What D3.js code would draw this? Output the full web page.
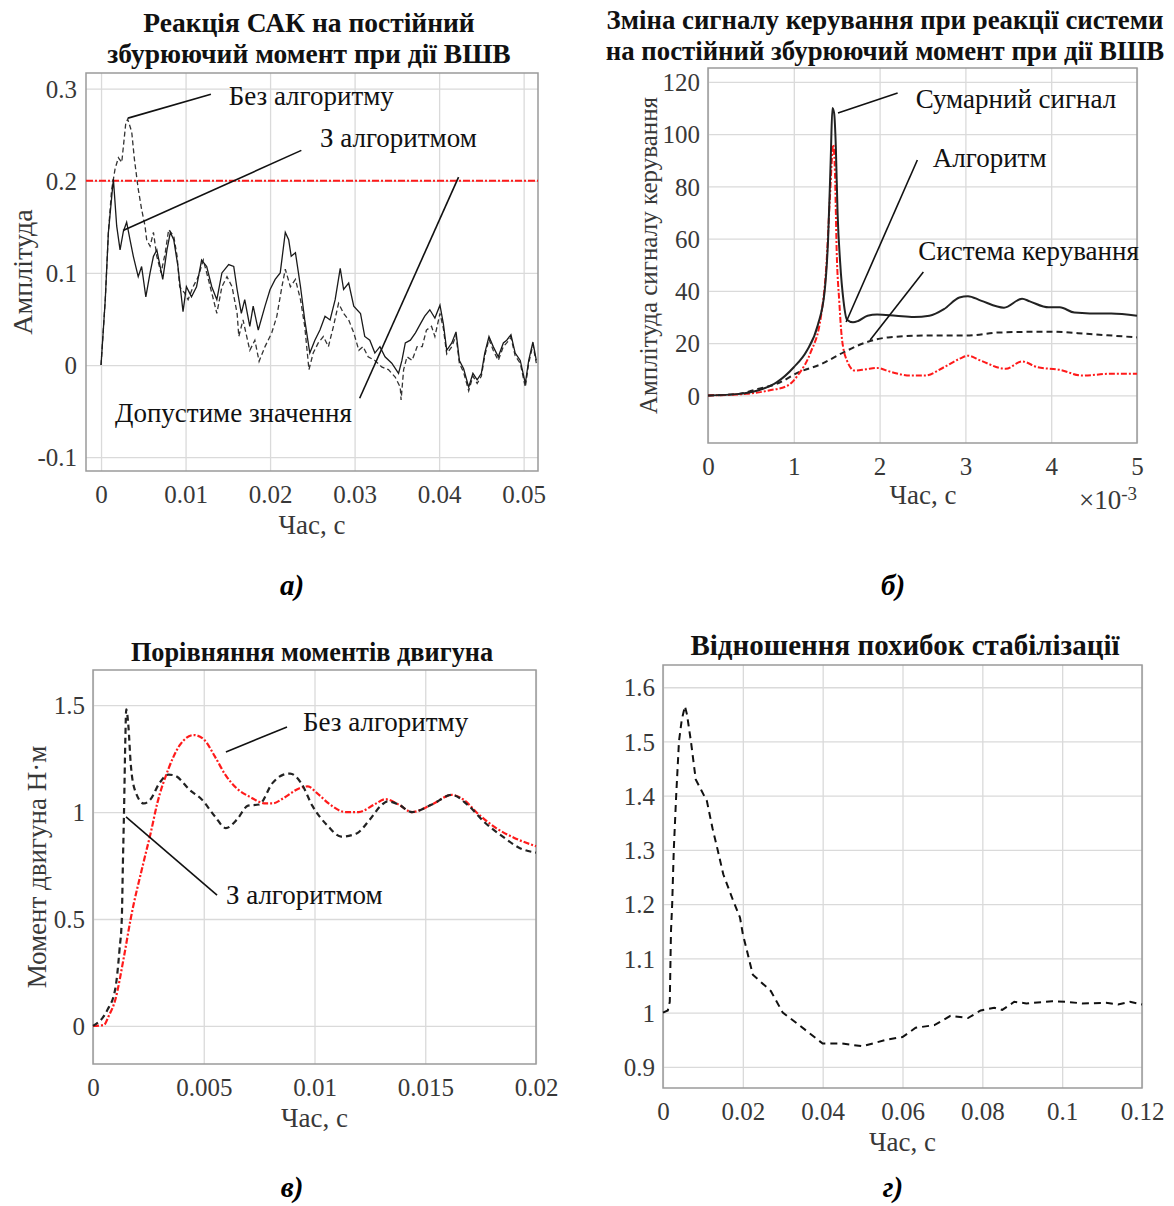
<!DOCTYPE html>
<html>
<head>
<meta charset="utf-8">
<script src="https://cdn.jsdelivr.net/npm/d3@7"></script>
<style>
  body { margin: 0; background: #fff; }
  svg text { font-family: "Liberation Serif", "Times New Roman", serif; }
  .grid line { stroke: #dadada; stroke-width: 1.3; }
  .grid .domain { display: none; }
  .frame { fill: none; stroke: #9a9a9a; stroke-width: 1.5; }
  .axis .domain { display: none; }
  .axis text { fill: #383838; font-size: 25px; }
  .title { font-weight: bold; fill: #111; text-anchor: middle; }
  .axis-label { font-size: 27px; fill: #383838; text-anchor: middle; }
  .note { font-size: 27px; fill: #111; }
  .leader { stroke: #111; stroke-width: 1.6; }
  .sub { font-size: 29px; font-weight: bold; font-style: italic; text-anchor: middle; }
</style>
</head>
<body>
<svg width="1174" height="1206"></svg>
<script>
// ---- panel a: response to constant disturbance (time in s)
const aWithAlg = [[0,0],[0.0005,0.071],[0.00087,0.144],[0.00146,0.202],[0.00185,0.151],[0.00225,0.125],[0.00264,0.145],[0.00303,0.155],[0.00343,0.136],[0.00382,0.118],[0.0044,0.096],[0.0048,0.107],[0.0053,0.074],[0.0058,0.100],[0.0062,0.118],[0.0066,0.125],[0.0073,0.093],[0.0078,0.125],[0.0082,0.144],[0.0086,0.136],[0.0091,0.107],[0.0097,0.058],[0.0101,0.085],[0.0107,0.074],[0.0113,0.085],[0.0119,0.114],[0.0125,0.107],[0.0131,0.085],[0.0137,0.071],[0.0143,0.100],[0.0151,0.109],[0.0157,0.107],[0.0161,0.082],[0.0166,0.056],[0.0170,0.071],[0.0176,0.042],[0.0180,0.064],[0.0186,0.038],[0.0194,0.064],[0.0200,0.082],[0.0206,0.093],[0.0212,0.100],[0.0218,0.144],[0.0222,0.136],[0.0225,0.118],[0.0230,0.122],[0.0236,0.085],[0.0241,0.049],[0.0247,0.013],[0.0253,0.027],[0.0259,0.038],[0.0265,0.053],[0.0271,0.049],[0.0277,0.071],[0.0283,0.105],[0.0287,0.082],[0.0293,0.089],[0.0299,0.064],[0.0307,0.056],[0.0312,0.031],[0.0318,0.027],[0.0324,0.013],[0.0330,0.020],[0.0336,0.009],[0.0344,0.002],[0.0352,-0.009],[0.0356,0.005],[0.0360,0.024],[0.0366,0.027],[0.0372,0.035],[0.0378,0.045],[0.0383,0.053],[0.0389,0.060],[0.0395,0.051],[0.0401,0.065],[0.0405,0.045],[0.0409,0.016],[0.0415,0.024],[0.0420,0.036],[0.0424,0.005],[0.0429,-0.004],[0.0435,-0.024],[0.0440,-0.009],[0.0445,-0.016],[0.0450,-0.009],[0.0454,0.013],[0.0459,0.031],[0.0464,0.020],[0.0470,0.009],[0.0476,0.024],[0.0480,0.027],[0.0485,0.033],[0.0490,0.013],[0.0496,0.005],[0.0502,-0.020],[0.0506,0.005],[0.0511,0.025],[0.0515,0.005]];
const aWithoutAlg = [[0,0],[0.0005,0.071],[0.00087,0.144],[0.00125,0.190],[0.00166,0.213],[0.00205,0.225],[0.00245,0.220],[0.00292,0.262],[0.00315,0.267],[0.00363,0.253],[0.00394,0.224],[0.0044,0.191],[0.0048,0.169],[0.0052,0.151],[0.0054,0.136],[0.0058,0.129],[0.0062,0.144],[0.0066,0.118],[0.0071,0.100],[0.0076,0.122],[0.0080,0.147],[0.0086,0.140],[0.0090,0.118],[0.0093,0.085],[0.0099,0.078],[0.0103,0.071],[0.0109,0.085],[0.0115,0.096],[0.0121,0.114],[0.0127,0.093],[0.0133,0.071],[0.0137,0.056],[0.0143,0.085],[0.0149,0.096],[0.0155,0.085],[0.0161,0.056],[0.0163,0.031],[0.0168,0.049],[0.0176,0.016],[0.0182,0.027],[0.0187,0.004],[0.0194,0.020],[0.0202,0.035],[0.0208,0.053],[0.0214,0.085],[0.0218,0.104],[0.0224,0.085],[0.0230,0.093],[0.0236,0.071],[0.0241,0.042],[0.0246,-0.005],[0.0251,0.013],[0.0257,0.024],[0.0263,0.031],[0.0269,0.020],[0.0275,0.042],[0.0281,0.067],[0.0287,0.056],[0.0293,0.049],[0.0299,0.035],[0.0305,0.016],[0.0310,0.020],[0.0316,0.009],[0.0324,0.005],[0.0332,-0.002],[0.0340,-0.005],[0.0348,-0.013],[0.0354,-0.024],[0.0355,-0.038],[0.0358,-0.005],[0.0362,0.009],[0.0368,0.005],[0.0374,0.020],[0.0380,0.020],[0.0385,0.038],[0.0391,0.042],[0.0395,0.031],[0.0401,0.056],[0.0405,0.040],[0.0409,0.012],[0.0415,0.020],[0.0420,0.032],[0.0424,0.002],[0.0429,-0.008],[0.0435,-0.028],[0.0440,-0.012],[0.0445,-0.020],[0.0450,-0.012],[0.0454,0.010],[0.0459,0.028],[0.0464,0.016],[0.0470,0.005],[0.0476,0.020],[0.0480,0.024],[0.0485,0.030],[0.0490,0.010],[0.0496,0.002],[0.0502,-0.024],[0.0506,0.002],[0.0511,0.022],[0.0515,0.002]];
const aLimit = 0.2;
const aXTicks = [0, 0.01, 0.02, 0.03, 0.04, 0.05];
const aYTicks = [-0.1, 0, 0.1, 0.2, 0.3];

// ---- panel b: control signal (time in ms, axis shows x10^-3)
const bTotal = [[0,0],[0.36,0.6],[0.58,1.9],[0.8,5],[1.0,10.8],[1.15,17],[1.28,27],[1.36,40],[1.40,60],[1.43,90],[1.45,110],[1.47,108],[1.49,95],[1.51,70],[1.54,51],[1.58,36],[1.62,29],[1.69,28],[1.75,28.5],[1.86,30.5],[1.97,31],[2.19,30.5],[2.4,30],[2.58,30.5],[2.75,33],[2.93,37.5],[3.03,38],[3.18,36.3],[3.45,33.6],[3.66,37],[3.75,36],[3.97,33.7],[4.1,33.7],[4.27,31.7],[4.45,31.4],[4.7,31.4],[5,30.5]];
const bAlgorithm = [[0,0],[0.45,0.6],[0.71,1.9],[0.93,3.8],[1.06,8.3],[1.19,16],[1.32,31],[1.38,50],[1.42,75],[1.46,96],[1.48,85],[1.50,55],[1.53,36],[1.56,22],[1.62,13.3],[1.71,9.5],[1.84,10],[1.97,10.5],[2.14,8.9],[2.36,7.6],[2.53,7.6],[2.75,10.8],[2.93,14],[3.03,15.2],[3.18,13.3],[3.47,10.2],[3.66,13],[3.84,10.8],[4.1,9.8],[4.36,7.6],[4.7,8.3],[5,8.3]];
const bSystem = [[0,0],[0.36,0.6],[0.58,2.5],[0.8,4.4],[1.06,8.9],[1.32,12],[1.58,16.5],[1.84,20.3],[2.1,22.2],[2.53,22.9],[3,22.9],[3.4,24.1],[4,24.4],[4.45,23.5],[5,22.2]];
const bXTicks = [0, 1, 2, 3, 4, 5];
const bYTicks = [0, 20, 40, 60, 80, 100, 120];

// ---- panel c: motor torque (time in s)
const cWithoutAlg = [[0,0],[0.0005,0.005],[0.0007,0.044],[0.001,0.12],[0.0014,0.325],[0.0017,0.5],[0.00227,0.76],[0.0026,0.90],[0.0029,1.04],[0.0034,1.2],[0.0039,1.31],[0.00455,1.36],[0.005,1.34],[0.0055,1.26],[0.006,1.17],[0.0065,1.11],[0.0071,1.07],[0.0078,1.04],[0.0081,1.04],[0.0086,1.065],[0.0093,1.11],[0.0097,1.12],[0.0101,1.09],[0.0107,1.035],[0.0114,1.0],[0.012,1.0],[0.0127,1.035],[0.0132,1.06],[0.0138,1.035],[0.0144,1.0],[0.0153,1.035],[0.0162,1.08],[0.0167,1.06],[0.0174,0.99],[0.0182,0.925],[0.019,0.88],[0.02,0.84]];
const cWithAlg = [[0,0],[0.00065,0.075],[0.001,0.17],[0.0012,0.36],[0.0013,0.5],[0.00135,0.76],[0.0014,1.0],[0.00146,1.34],[0.0015,1.48],[0.0016,1.40],[0.0017,1.23],[0.0019,1.10],[0.0023,1.04],[0.0026,1.06],[0.003,1.135],[0.0034,1.175],[0.0037,1.17],[0.0044,1.10],[0.0049,1.06],[0.0055,0.98],[0.006,0.925],[0.0065,0.965],[0.007,1.03],[0.0075,1.035],[0.0081,1.135],[0.0086,1.175],[0.0089,1.18],[0.0094,1.135],[0.0099,1.03],[0.0106,0.935],[0.0112,0.885],[0.0119,0.90],[0.0125,0.965],[0.013,1.03],[0.0133,1.05],[0.0138,1.035],[0.0144,1.0],[0.0153,1.035],[0.0162,1.08],[0.0169,1.035],[0.0177,0.95],[0.0185,0.885],[0.0193,0.83],[0.02,0.81]];
const cXTicks = [0, 0.005, 0.01, 0.015, 0.02];
const cYTicks = [0, 0.5, 1, 1.5];

// ---- panel d: ratio of stabilisation errors (time in s)
const dRatio = [[0,1.0],[0.0012,1.004],[0.0017,1.02],[0.002,1.15],[0.0023,1.2],[0.0027,1.3],[0.0033,1.4],[0.004,1.5],[0.0047,1.54],[0.0055,1.565],[0.006,1.55],[0.007,1.5],[0.0082,1.43],[0.0096,1.41],[0.011,1.39],[0.0124,1.34],[0.0137,1.3],[0.0151,1.255],[0.0174,1.21],[0.0193,1.175],[0.02,1.145],[0.0225,1.07],[0.027,1.04],[0.030,1.0],[0.0336,0.98],[0.04,0.943],[0.0448,0.943],[0.05,0.938],[0.056,0.95],[0.06,0.955],[0.0633,0.972],[0.068,0.977],[0.072,0.994],[0.0764,0.99],[0.0796,1.004],[0.083,1.009],[0.085,1.005],[0.088,1.02],[0.091,1.017],[0.0975,1.021],[0.101,1.02],[0.105,1.017],[0.111,1.018],[0.114,1.015],[0.117,1.02],[0.12,1.015]];
const dXTicks = [0, 0.02, 0.04, 0.06, 0.08, 0.1, 0.12];
const dYTicks = [0.9, 1, 1.1, 1.2, 1.3, 1.4, 1.5, 1.6];

const svg = d3.select('svg');
const fmt = d => String(+d.toFixed(4));

// builds one subplot: grid, frame, tick labels, title; returns scales
const panel = cfg => {
  const x = d3.scaleLinear().domain(cfg.xDomain).range([cfg.left, cfg.right]);
  const y = d3.scaleLinear().domain(cfg.yDomain).range([cfg.bottom, cfg.top]);
  const w = cfg.right - cfg.left, h = cfg.bottom - cfg.top;
  const g = svg.append('g');

  g.append('g').attr('class', 'grid')
    .attr('transform', `translate(0,${cfg.bottom})`)
    .call(d3.axisBottom(x).tickValues(cfg.xTicks).tickSize(-h).tickFormat(''));
  g.append('g').attr('class', 'grid')
    .attr('transform', `translate(${cfg.left},0)`)
    .call(d3.axisLeft(y).tickValues(cfg.yTicks).tickSize(-w).tickFormat(''));

  g.append('rect').attr('class', 'frame')
    .attr('x', cfg.left).attr('y', cfg.top).attr('width', w).attr('height', h);

  const xAxisG = g.append('g').attr('class', 'axis')
    .attr('transform', `translate(0,${cfg.bottom})`)
    .call(d3.axisBottom(x).tickValues(cfg.xTicks).tickSize(0).tickFormat(fmt));
  xAxisG.attr('font-family', null).attr('font-size', null);
  xAxisG.selectAll('text').attr('y', 23).attr('dy', '0.35em');

  const yAxisG = g.append('g').attr('class', 'axis')
    .attr('transform', `translate(${cfg.left},0)`)
    .call(d3.axisLeft(y).tickValues(cfg.yTicks).tickSize(0).tickFormat(fmt));
  yAxisG.attr('font-family', null).attr('font-size', null);
  yAxisG.selectAll('text').attr('x', -cfg.yPad).attr('dy', '0.35em');

  cfg.title.forEach((t, i) => {
    g.append('text').attr('class', 'title')
      .attr('font-size', cfg.titleSize)
      .attr('x', cfg.titleX).attr('y', cfg.titleY + i * 31)
      .attr('dy', '0.35em').text(t);
  });

  g.append('text').attr('class', 'axis-label x-label')
    .attr('x', (cfg.left + cfg.right) / 2).attr('y', cfg.bottom + 54)
    .attr('dy', '0.35em').text('Час, с');

  if (cfg.yLabel) {
    g.append('text').attr('class', 'axis-label')
      .style('font-size', cfg.yLabelSize + 'px')
      .attr('transform', `translate(${cfg.yLabelX},${(cfg.top + cfg.bottom) / 2}) rotate(-90)`)
      .attr('dy', '0.35em').text(cfg.yLabel);
  }

  g.append('text').attr('class', 'sub')
    .attr('x', cfg.subX).attr('y', cfg.subY).attr('dy', '0.3em').text(cfg.sub);

  return { x, y, g };
};

const drawLine = (p, data, style, curve) => {
  p.g.append('path')
    .datum(data)
    .attr('fill', 'none')
    .attr('stroke', style.color)
    .attr('stroke-width', style.width)
    .attr('stroke-dasharray', style.dash || null)
    .attr('d', d3.line().x(d => p.x(d[0])).y(d => p.y(d[1])).curve(curve || d3.curveLinear));
};

// annotation: text anchored at data point, leader between two data points
const note = (p, text, at, from, to) => {
  p.g.append('line').attr('class', 'leader')
    .attr('x1', p.x(from[0])).attr('y1', p.y(from[1]))
    .attr('x2', p.x(to[0])).attr('y2', p.y(to[1]));
  p.g.append('text').attr('class', 'note')
    .attr('x', p.x(at[0])).attr('y', p.y(at[1])).attr('dy', '0.35em').text(text);
};

const black = '#1a1a1a';
const red = '#ff1a1a';

// ---------- a)
const pA = panel({
  left: 86, right: 538, top: 73, bottom: 471, yPad: 9,
  xDomain: [-0.00178, 0.0517], yDomain: [-0.115, 0.317],
  xTicks: aXTicks, yTicks: aYTicks,
  title: ['Реакція САК на постійний', 'збурюючий момент при дії ВШВ'],
  titleX: 309, titleY: 22, titleSize: 27.5,
  yLabel: 'Амплітуда', yLabelX: 22, yLabelSize: 28,
  sub: 'а)', subX: 292, subY: 586
});
drawLine(pA, [[-0.00178, aLimit], [0.0517, aLimit]], { color: red, width: 2, dash: '7,2,2,2' });
drawLine(pA, aWithoutAlg, { color: '#333', width: 1.3, dash: '5,3' });
drawLine(pA, aWithAlg, { color: black, width: 1.3 });
note(pA, 'Без алгоритму', [0.0151, 0.293], [0.00319, 0.268], [0.0130, 0.294]);
note(pA, 'З алгоритмом', [0.0259, 0.247], [0.0026, 0.146], [0.0237, 0.233]);
note(pA, 'Допустиме значення', [0.00165, -0.052], [0.0423, 0.204], [0.0306, -0.036]);

// ---------- б)
const pB = panel({
  left: 708, right: 1137, top: 68, bottom: 443, yPad: 8,
  xDomain: [0, 5], yDomain: [-18.2, 125.3],
  xTicks: bXTicks, yTicks: bYTicks,
  title: ['Зміна сигналу керування при реакції системи', 'на постійний збурюючий момент при дії ВШВ'],
  titleX: 885, titleY: 20, titleSize: 26.8,
  yLabel: 'Амплітуда сигналу керування', yLabelX: 648, yLabelSize: 25,
  sub: 'б)', subX: 893, subY: 586
});
pB.g.select('.x-label').attr('y', 495).attr('x', 923);
const expo = pB.g.append('text').attr('class', 'axis-label')
  .style('text-anchor', 'start')
  .attr('x', 1079).attr('y', 500).attr('dy', '0.35em');
expo.append('tspan').text('×10');
expo.append('tspan').attr('dy', '-0.5em').style('font-size', '19px').text('-3');
drawLine(pB, bSystem, { color: '#222', width: 2, dash: '6,4' }, d3.curveMonotoneX);
drawLine(pB, bAlgorithm, { color: red, width: 2, dash: '6,2,2,2' }, d3.curveMonotoneX);
drawLine(pB, bTotal, { color: '#222', width: 2 }, d3.curveMonotoneX);
note(pB, 'Сумарний сигнал', [2.42, 113.8], [1.515, 108.1], [2.21, 115.7]);
note(pB, 'Алгоритм', [2.62, 90.9], [1.61, 28.1], [2.44, 90.1]);
note(pB, 'Система керування', [2.45, 55.6], [1.89, 21.2], [2.51, 47.2]);

// ---------- в)
const pC = panel({
  left: 93, right: 536, top: 670, bottom: 1064, yPad: 8,
  xDomain: [0, 0.02], yDomain: [-0.178, 1.664],
  xTicks: cXTicks, yTicks: cYTicks,
  title: ['Порівняння моментів двигуна'],
  titleX: 312, titleY: 652, titleSize: 26.3,
  yLabel: 'Момент двигуна Н·м', yLabelX: 37, yLabelSize: 27,
  sub: 'в)', subX: 292, subY: 1188
});
drawLine(pC, cWithoutAlg, { color: red, width: 2.2, dash: '6,2,2,2' }, d3.curveMonotoneX);
drawLine(pC, cWithAlg, { color: '#222', width: 2.2, dash: '6,4' }, d3.curveMonotoneX);
note(pC, 'Без алгоритму', [0.00948, 1.421], [0.0060, 1.281], [0.00876, 1.398]);
note(pC, 'З алгоритмом', [0.0060, 0.612], [0.00149, 0.977], [0.0056, 0.612]);

// ---------- г)
const pD = panel({
  left: 663, right: 1142, top: 665, bottom: 1088, yPad: 8,
  xDomain: [0, 0.12], yDomain: [0.861, 1.641],
  xTicks: dXTicks, yTicks: dYTicks,
  title: ['Відношення похибок стабілізації'],
  titleX: 905, titleY: 645, titleSize: 29,
  yLabel: null,
  sub: 'г)', subX: 893, subY: 1188
});
drawLine(pD, dRatio, { color: '#111', width: 2, dash: '7,5' });
</script>
</body>
</html>
